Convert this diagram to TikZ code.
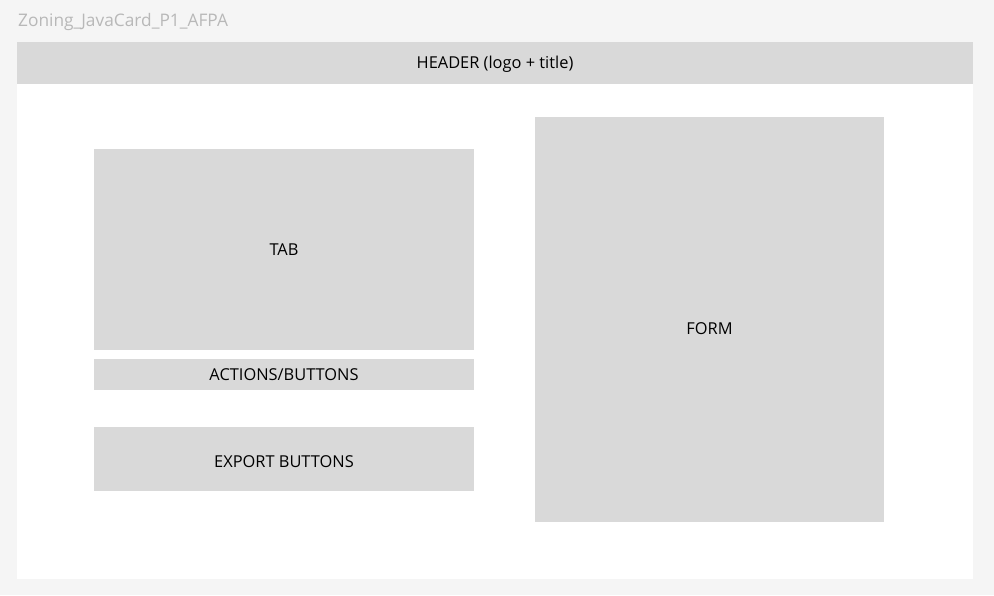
\documentclass[tikz,border=0pt]{standalone}
\usepackage{fontspec}
\setmainfont{Open Sans}
\usetikzlibrary{calc}
\begin{document}
\begin{tikzpicture}[x=1pt,y=-1pt,
  zone/.style={fill=zonegray, draw=none, inner sep=0pt},
  zonetext/.style={inner sep=0pt, font=\fontsize{16.4}{19}\selectfont, text=black},
]
\definecolor{pagebg}{HTML}{F5F5F5}
\definecolor{zonegray}{HTML}{D9D9D9}
\definecolor{titlegray}{HTML}{B8B8B8}
% page background and white frame
\fill[pagebg] (0,0) rectangle (994,595);
\useasboundingbox (0,0) rectangle (994,595);
\node[anchor=base west, inner sep=0pt, text=titlegray, font=\fontsize{17.3}{20}\selectfont] (title) at (18,26.5) {Zoning\_JavaCard\_P1\_AFPA};
\fill[white] (17,42) rectangle (973,579);
% zones
\node[zone, minimum width=956pt, minimum height=42pt] (header) at (495,63) {};
\node[zone, minimum width=380pt, minimum height=201pt] (tab) at (284,249.5) {};
\node[zone, minimum width=380pt, minimum height=31pt] (actions) at (284,374.5) {};
\node[zone, minimum width=380pt, minimum height=64pt] (export) at (284,459) {};
\node[zone, minimum width=349pt, minimum height=405pt] (form) at (709.5,319.5) {};
% zone labels
\node[zonetext] (headerlabel) at ($(header.center)+(0,1.5)$) {HEADER (logo + title)};
\node[zonetext] (tablabel) at (tab.center) {TAB};
\node[zonetext] (actionslabel) at (actions.center) {ACTIONS/BUTTONS};
\node[zonetext] (exportlabel) at ($(export.center)+(0,3)$) {EXPORT BUTTONS};
\node[zonetext] (formlabel) at ($(form.center)+(0,9.5)$) {FORM};
\end{tikzpicture}
\end{document}
